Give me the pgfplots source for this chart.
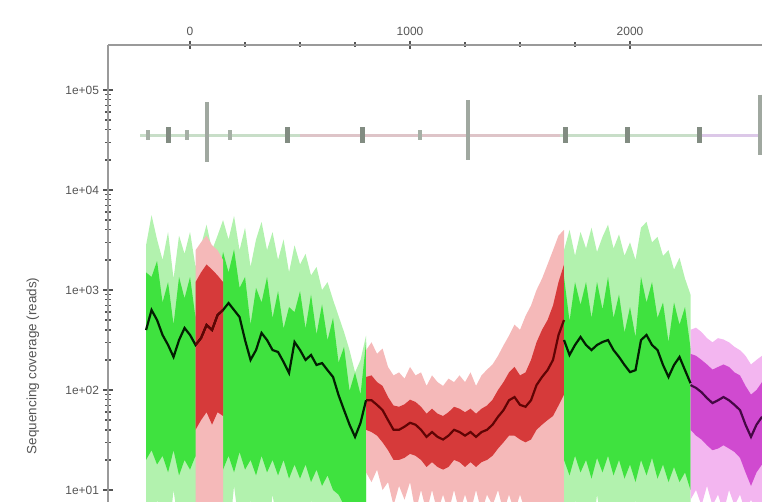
\documentclass[border=0pt]{standalone}
\usepackage{pgfplots}
\pgfplotsset{compat=1.18}
\usepackage{pgfplotstable}
\usepgfplotslibrary{fillbetween}
\usepackage{fontspec}
\setmainfont{Liberation Sans}
\definecolor{lgreen}{HTML}{B2F2AE}
\definecolor{mgreen}{HTML}{3FE23F}
\definecolor{dgreen}{HTML}{021E02}
\definecolor{lred}{HTML}{F5B9B9}
\definecolor{mred}{HTML}{D63A3A}
\definecolor{dred}{HTML}{600404}
\definecolor{lmag}{HTML}{F3B6F0}
\definecolor{mmag}{HTML}{D04AD0}
\definecolor{dmag}{HTML}{450845}
\definecolor{axgray}{HTML}{9A9A9A}
\definecolor{txtgray}{HTML}{555555}

\pgfplotstableread{
x m ilo ihi olo ohi
-200 398 20 1500 5 2800
-175 631 25 1350 3 5600
-150 501 18 1950 8 3200
-125 355 22 750 4 2000
-100 282 15 1200 3 3800
-75 214 25 450 10 1300
-50 316 14 1350 4 3500
-25 417 20 825 3 2300
0 355 16 1350 6 3800
25 282 22 525 3 1700
50 331 14 1350 9 2800
75 447 20 900 4 4500
100 398 15 1500 3 2500
125 562 24 1125 7 3500
150 631 16 2400 4 5000
175 741 22 1500 3 3200
200 631 15 2550 11 5500
225 537 24 1050 4 2500
250 316 16 1350 3 4200
275 200 20 450 8 1700
300 251 14 1050 3 3200
325 372 22 750 5 4800
350 316 15 1350 3 2500
375 251 20 525 9 3800
400 240 14 975 4 2000
425 191 20 412 3 3200
450 148 13 675 7 1500
475 302 18 600 3 2800
500 251 13 975 5 1800
525 200 18 412 3 2300
550 224 12 900 8 1400
575 178 16 360 3 1700
600 186 11 720 6 1000
625 158 14 315 3 1200
650 135 10 525 5 800
675 89 9 188 3 550
700 63 7 270 6 380
725 45 6 98 3 250
750 34 5 150 4 150
775 47 5 90 3 200
800 79 6 300 5 350
}\greenA

\pgfplotstableread{
x m ilo ihi olo ohi
25 282 40 1200 3 2500
50 331 50 1500 5 3000
75 447 60 1800 3 3500
100 398 45 1600 6 2800
125 562 60 1400 3 2500
150 631 55 1200 4 2000
}\redA

\pgfplotstableread{
x m ilo ihi olo ohi
800 79 40 135 15 250
825 79 38 140 12 300
850 71 35 120 16 230
875 63 30 110 10 260
900 50 25 85 12 170
925 40 20 70 7 140
950 40 20 68 11 150
975 43 21 72 8 130
1000 47 23 80 12 170
1025 45 22 76 6 140
1050 40 20 68 10 150
1075 34 17 58 6 110
1100 38 19 65 10 140
1125 34 17 58 6 120
1150 32 16 55 9 110
1175 35 17 60 6 130
1200 40 20 68 10 120
1225 38 19 65 6 140
1250 35 17 60 9 120
1275 38 19 65 6 150
1300 34 17 58 10 110
1325 38 19 65 6 140
1350 40 20 70 9 160
1375 45 22 80 7 180
1400 54 26 100 10 220
1425 63 30 120 6 280
1450 79 35 150 9 350
1475 85 35 170 6 450
1500 71 32 140 9 400
1525 68 30 150 6 550
1550 79 32 200 7 700
1575 112 40 300 5 1000
1600 135 45 400 6 1300
1625 158 50 500 4 1800
1650 200 55 700 5 2500
1675 355 70 1200 4 3500
1700 501 90 1800 3 4000
}\redB

\pgfplotstableread{
x m ilo ihi olo ohi
1700 316 20 1350 4 2500
1725 224 14 488 3 4000
1750 282 22 1200 8 2200
1775 339 15 712 3 3800
1800 282 20 1200 5 2600
1825 251 13 525 3 4200
1850 282 21 1200 9 2400
1875 302 15 638 4 3400
1900 316 22 1350 3 4500
1925 251 14 525 7 2600
1950 214 20 900 3 3600
1975 178 13 375 5 2200
2000 151 18 675 3 3000
2025 158 12 338 8 2000
2050 316 20 1350 3 4200
2075 355 14 750 4 4800
2100 282 21 1200 3 3000
2125 251 13 525 6 3400
2150 178 18 750 3 2200
2175 135 12 300 5 2500
2200 178 17 750 3 1600
2225 214 12 450 7 2100
2250 158 15 675 3 1300
2275 117 10 262 5 900
}\greenB

\pgfplotstableread{
x m ilo ihi olo ohi
2275 112 40 230 8 400
2300 105 35 220 10 420
2325 95 32 200 7 380
2350 83 28 180 11 330
2375 74 25 160 7 300
2400 79 26 170 9 330
2425 85 28 180 6 320
2450 79 26 170 10 300
2475 71 24 150 7 270
2500 63 21 140 9 250
2525 45 15 110 6 220
2550 34 11 90 8 180
2575 45 15 100 6 200
2600 54 18 120 7 220
}\magA

\begin{document}
\begin{tikzpicture}
\begin{axis}[
  scale only axis,
  width=654bp, height=457bp,
  ymode=log,
  xmin=-373, xmax=2600,
  ymin=7.59, ymax=281838,
  axis x line*=top,
  axis y line*=left,
  axis line style={-, axgray, line width=1.6bp},
  xtick={0,1000,2000},
  xticklabels={0,1000,2000},
  minor x tick num=3,
  ytick={10,100,1000,10000,100000},
  yticklabels={1e+01,1e+02,1e+03,1e+04,1e+05},
  tick style={txtgray, line width=1.4bp},
  major tick length=9bp,
  minor tick length=5bp,
  tick align=center,
  tick label style={font=\fontsize{12}{13}\selectfont, text=txtgray},
  xticklabel style={yshift=1bp},
  yticklabel style={xshift=-1bp},
  ylabel={Sequencing coverage (reads)},
  ylabel style={at={(rel axis cs:-0.1147,0.298)}, anchor=center, font=\fontsize{13.5}{15}\selectfont, text=txtgray},
  clip=true,
]
% ---- green segment 1
\addplot[name path=gAoh, draw=none, forget plot] table[x=x,y=ohi]{\greenA};
\addplot[name path=gAol, draw=none, forget plot] table[x=x,y=olo]{\greenA};
\addplot[lgreen, draw=none, forget plot] fill between[of=gAoh and gAol];
\addplot[name path=gAih, draw=none, forget plot] table[x=x,y=ihi]{\greenA};
\addplot[name path=gAil, draw=none, forget plot] table[x=x,y=ilo]{\greenA};
\addplot[mgreen, draw=none, forget plot] fill between[of=gAih and gAil];
% ---- red inside segment 1
\addplot[name path=rAoh, draw=none, forget plot] table[x=x,y=ohi]{\redA};
\addplot[name path=rAol, draw=none, forget plot] table[x=x,y=olo]{\redA};
\addplot[lred, draw=none, forget plot] fill between[of=rAoh and rAol];
\addplot[name path=rAih, draw=none, forget plot] table[x=x,y=ihi]{\redA};
\addplot[name path=rAil, draw=none, forget plot] table[x=x,y=ilo]{\redA};
\addplot[mred, draw=none, forget plot] fill between[of=rAih and rAil];
% ---- red segment 2
\addplot[name path=rBoh, draw=none, forget plot] table[x=x,y=ohi]{\redB};
\addplot[name path=rBol, draw=none, forget plot] table[x=x,y=olo]{\redB};
\addplot[lred, draw=none, forget plot] fill between[of=rBoh and rBol];
\addplot[name path=rBih, draw=none, forget plot] table[x=x,y=ihi]{\redB};
\addplot[name path=rBil, draw=none, forget plot] table[x=x,y=ilo]{\redB};
\addplot[mred, draw=none, forget plot] fill between[of=rBih and rBil];
% ---- green segment 2
\addplot[name path=gBoh, draw=none, forget plot] table[x=x,y=ohi]{\greenB};
\addplot[name path=gBol, draw=none, forget plot] table[x=x,y=olo]{\greenB};
\addplot[lgreen, draw=none, forget plot] fill between[of=gBoh and gBol];
\addplot[name path=gBih, draw=none, forget plot] table[x=x,y=ihi]{\greenB};
\addplot[name path=gBil, draw=none, forget plot] table[x=x,y=ilo]{\greenB};
\addplot[mgreen, draw=none, forget plot] fill between[of=gBih and gBil];
% ---- magenta segment
\addplot[name path=mAoh, draw=none, forget plot] table[x=x,y=ohi]{\magA};
\addplot[name path=mAol, draw=none, forget plot] table[x=x,y=olo]{\magA};
\addplot[lmag, draw=none, forget plot] fill between[of=mAoh and mAol];
\addplot[name path=mAih, draw=none, forget plot] table[x=x,y=ihi]{\magA};
\addplot[name path=mAil, draw=none, forget plot] table[x=x,y=ilo]{\magA};
\addplot[mmag, draw=none, forget plot] fill between[of=mAih and mAil];
% ---- mean lines
\addplot[dgreen, line width=2.2bp, mark=none] table[x=x,y=m]{\greenA};
\addplot[dred, line width=2.2bp, mark=none] table[x=x,y=m]{\redA};
\addplot[dred, line width=2.2bp, mark=none] table[x=x,y=m]{\redB};
\addplot[dgreen, line width=2.2bp, mark=none] table[x=x,y=m]{\greenB};
\addplot[dmag, line width=2.2bp, mark=none] table[x=x,y=m]{\magA};
% ---- annotation track
\addplot[color={rgb,255:red,200;green,222;blue,200}, line width=3bp] coordinates {(-227,35481) (500,35481)};
\addplot[color={rgb,255:red,222;green,196;blue,200}, line width=3bp] coordinates {(500,35481) (1680,35481)};
\addplot[color={rgb,255:red,200;green,222;blue,200}, line width=3bp] coordinates {(1680,35481) (2320,35481)};
\addplot[color={rgb,255:red,220;green,200;blue,232}, line width=3bp] coordinates {(2320,35481) (2600,35481)};
\addplot[only marks, mark=|, mark size=8bp, mark options={line width=5bp, color={rgb,255:red,130;green,140;blue,130}}]
  coordinates {(-100,35481) (445,35481) (782,35481) (1705,35481) (1990,35481) (2318,35481)};
\addplot[only marks, mark=|, mark size=5bp, mark options={line width=4bp, color={rgb,255:red,165;green,175;blue,165}}]
  coordinates {(-190,35481) (-14,35481) (180,35481) (1045,35481)};
\addplot[only marks, mark=|, mark size=30bp, mark options={line width=3.5bp, color={rgb,255:red,160;green,168;blue,160}}]
  coordinates {(77,38000) (1264,40000) (2590,45000)};
\end{axis}
\pgfresetboundingbox
\path ([xshift=-108bp]current axis.south west) rectangle ([yshift=45bp]current axis.north east);
\end{tikzpicture}
\end{document}
